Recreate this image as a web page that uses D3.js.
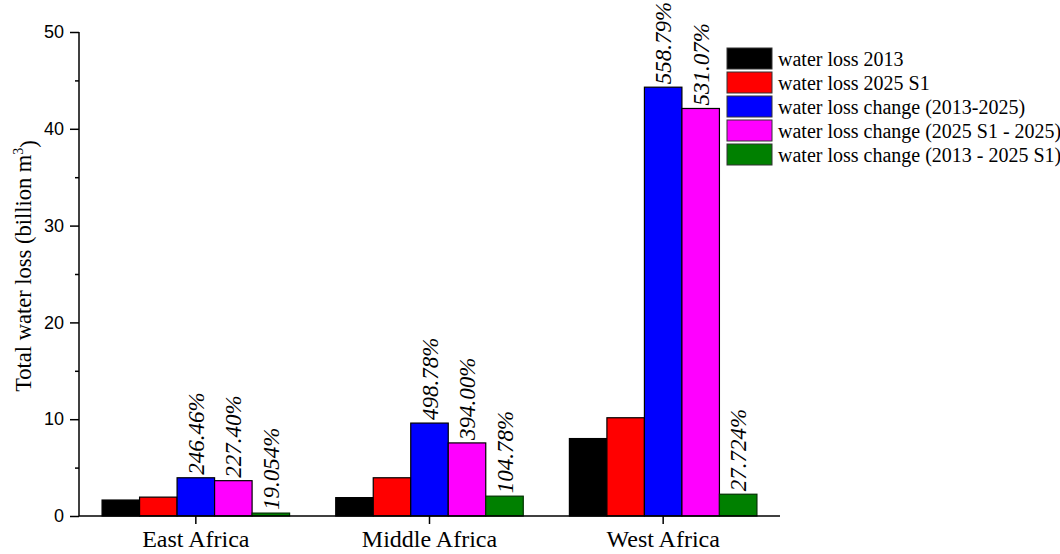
<!DOCTYPE html>
<html><head><meta charset="utf-8">
<script src="https://cdn.jsdelivr.net/npm/d3@7"></script>
<style>
body{margin:0;background:#fff;}
svg{display:block;}
</style></head>
<body>
<svg id="chart" width="1060" height="554"></svg>
<script>
const categories = ["East Africa", "Middle Africa", "West Africa"];
const seriesNames = ["water loss 2013", "water loss 2025 S1", "water loss change (2013-2025)", "water loss change (2025 S1 - 2025)", "water loss change (2013 - 2025 S1)"];
const seriesColors = ["#000000", "#ff0000", "#0000ff", "#ff00ff", "#008000"];
const loss2013 = [1.65, 1.9, 8.0];
const loss2025S1 = [1.95, 3.95, 10.15];
const change2013_2025 = [3.95, 9.6, 44.3];
const change2025S1_2025 = [3.65, 7.55, 42.1];
const change2013_2025S1 = [0.3, 2.05, 2.25];
const pctChange2013_2025 = ["246.46%", "498.78%", "558.79%"];
const pctChange2025S1_2025 = ["227.40%", "394.00%", "531.07%"];
const pctChange2013_2025S1 = ["19.054%", "104.78%", "27.724%"];
const yTicks = [0, 10, 20, 30, 40, 50];
const yMinorTicks = [5, 15, 25, 35, 45];

const seriesValues = [loss2013, loss2025S1, change2013_2025, change2025S1_2025, change2013_2025S1];
const seriesLabels = [null, null, pctChange2013_2025, pctChange2025S1_2025, pctChange2013_2025S1];

const svg = d3.select("#chart");
const x0 = 79, x1 = 780, yBottom = 516, yTop = 32;

const x = d3.scaleBand().domain(categories).range([x0, x1]).paddingInner(0).paddingOuter(0);
const xs = d3.scaleBand().domain(d3.range(seriesNames.length)).range([0, x.bandwidth()]).paddingInner(0).paddingOuter(0.615);
const y = d3.scaleLinear().domain([0, 50]).range([yBottom, yTop]);

const serif = "'Liberation Serif','Times New Roman',serif";
const sans = "'Liberation Sans',Arial,Helvetica,sans-serif";

// bars
seriesValues.forEach((vals, si) => {
  const g = svg.append("g");
  g.selectAll("rect").data(vals).join("rect")
    .attr("x", (d, i) => x(categories[i]) + xs(si))
    .attr("y", d => y(d))
    .attr("width", xs.bandwidth())
    .attr("height", d => y(0) - y(d))
    .attr("fill", seriesColors[si])
    .attr("stroke", si === 4 ? "#003000" : "#000")
    .attr("stroke-width", 1.2);
  if (seriesLabels[si]) {
    g.selectAll("text").data(vals).join("text")
      .attr("transform", (d, i) => `translate(${x(categories[i]) + xs(si) + xs.bandwidth() / 2},${y(d) - 3}) rotate(-90)`)
      .attr("dy", "0.35em")
      .attr("font-family", serif)
      .attr("font-style", "italic")
      .attr("font-size", 23)
      .attr("fill", "#000")
      .text((d, i) => seriesLabels[si][i]);
  }
});

// y axis
const yAxis = d3.axisLeft(y).tickValues(yTicks).tickSize(9).tickPadding(6);
const gy = svg.append("g").attr("transform", `translate(${x0},0)`).call(yAxis);
gy.select(".domain").attr("stroke", "#000").attr("stroke-width", 1.5).attr("d", `M-0,${yTop}V${yBottom}`);
gy.selectAll(".tick line").attr("stroke-width", 1.5);
gy.selectAll(".tick text").attr("font-family", sans).attr("font-size", 18).attr("fill", "#000");
const yMinor = d3.axisLeft(y).tickValues(yMinorTicks).tickSize(4).tickFormat("");
const gym = svg.append("g").attr("transform", `translate(${x0},0)`).call(yMinor);
gym.select(".domain").remove();
gym.selectAll(".tick line").attr("stroke-width", 1.5);

// x axis
const xAxis = d3.axisBottom(x).tickSize(8).tickPadding(6);
const gx = svg.append("g").attr("transform", `translate(0,${yBottom})`).call(xAxis);
gx.select(".domain").attr("stroke-width", 1.5).attr("d", `M${x0},0H${x1}`);
gx.selectAll(".tick line").attr("stroke-width", 1.5);
gx.selectAll(".tick text").attr("font-family", serif).attr("font-size", 24).attr("fill", "#000").attr("y", 31).attr("dy", 0);

// y title
const title = svg.append("text")
  .attr("transform", `translate(31,${(yTop + yBottom) / 2 - 8}) rotate(-90)`)
  .attr("text-anchor", "middle")
  .attr("font-family", serif)
  .attr("font-size", 22.5)
  .attr("fill", "#000");
title.append("tspan").text("Total water loss (billion m");
title.append("tspan").attr("dy", "-0.55em").attr("font-size", 14).text("3");
title.append("tspan").attr("dy", "0.55em").text(")");

// legend
const lg = svg.append("g").attr("transform", "translate(727,48)");
seriesNames.forEach((name, i) => {
  const row = lg.append("g").attr("transform", `translate(0,${i * 24})`);
  row.append("rect").attr("width", 45).attr("height", 21)
    .attr("fill", seriesColors[i]).attr("stroke", "#333").attr("stroke-width", 1);
  row.append("text").attr("x", 51).attr("y", 10.5).attr("dy", "0.35em")
    .attr("font-family", serif).attr("font-size", 20).attr("fill", "#000").text(name);
});
</script>
</body></html>
